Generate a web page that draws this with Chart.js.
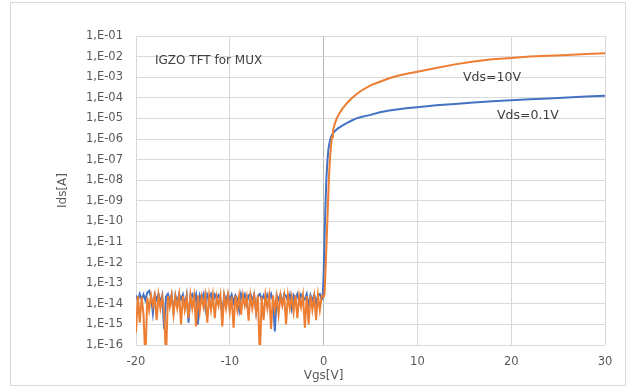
<!DOCTYPE html>
<html>
<head>
<meta charset="utf-8">
<script src="https://cdn.jsdelivr.net/npm/chart.js@4/dist/chart.umd.min.js"></script>
<style>
html,body{margin:0;padding:0;background:#fff;}
canvas{display:block;}
</style>
</head>
<body>
<canvas id="c" width="632" height="388"></canvas>
<script>
// ---- data ----
const xTickValues = [-20, -10, 0, 10, 20, 30];
const yTickValues = [1e-16,1e-15,1e-14,1e-13,1e-12,1e-11,1e-10,1e-9,1e-8,1e-7,1e-6,1e-5,1e-4,1e-3,1e-2,1e-1];
const yTickLabels = ['1,E-16','1,E-15','1,E-14','1,E-13','1,E-12','1,E-11','1,E-10','1,E-09','1,E-08','1,E-07','1,E-06','1,E-05','1,E-04','1,E-03','1,E-02','1,E-01'];

// off-state sweep voltages (Vgs, V)
const vgsOff = [
 -20.0,-19.8,-19.6,-19.4,-19.2,-19.0,-18.8,-18.6,-18.4,-18.2,
 -18.0,-17.8,-17.6,-17.4,-17.2,-17.0,-16.8,-16.6,-16.4,-16.2,
 -16.0,-15.8,-15.6,-15.4,-15.2,-15.0,-14.8,-14.6,-14.4,-14.2,
 -14.0,-13.8,-13.6,-13.4,-13.2,-13.0,-12.8,-12.6,-12.4,-12.2,
 -12.0,-11.8,-11.6,-11.4,-11.2,-11.0,-10.8,-10.6,-10.4,-10.2,
 -10.0,-9.8,-9.6,-9.4,-9.2,-9.0,-8.8,-8.6,-8.4,-8.2,
 -8.0,-7.8,-7.6,-7.4,-7.2,-7.0,-6.8,-6.6,-6.4,-6.2,
 -6.0,-5.8,-5.6,-5.4,-5.2,-5.0,-4.8,-4.6,-4.4,-4.2,
 -4.0,-3.8,-3.6,-3.4,-3.2,-3.0,-2.8,-2.6,-2.4,-2.2,
 -2.0,-1.8,-1.6,-1.4,-1.2,-1.0,-0.8,-0.6,-0.4,-0.2,0.0
];

// Vds = 0.1 V, off-state Ids [A]  (Vgs -20.0 ... -0.2)
const idsBlueOff = [
 2.6e-14,1.4e-14,3.0e-14,1.6e-14,2.8e-14,1.5e-14,3.4e-14,4.2e-14,2.2e-14,3.5e-15,
 2.8e-14,1.6e-14,3.0e-14,1.2e-14,2.6e-14,6.0e-16,2.2e-14,3.0e-14,1.4e-14,2.8e-14,
 4.0e-15,2.6e-14,1.2e-14,3.0e-14,1.6e-14,2.8e-14,8.0e-15,2.6e-14,1.2e-15,2.4e-14,
 3.0e-14,1.4e-14,2.8e-14,1.0e-15,2.6e-14,1.6e-14,3.0e-14,6.0e-15,2.8e-14,1.8e-14,
 3.0e-14,1.2e-14,2.8e-14,1.8e-14,2.6e-14,1.4e-14,3.0e-15,2.8e-14,1.4e-14,3.0e-14,
 1.6e-14,2.8e-14,1.2e-14,2.6e-14,1.8e-14,5.0e-15,3.0e-14,1.6e-14,2.8e-14,1.0e-14,
 2.6e-14,3.0e-14,1.4e-14,2.8e-14,4.0e-15,2.4e-14,3.0e-14,1.6e-14,2.6e-14,1.2e-14,
 2.8e-14,1.6e-14,3.0e-14,1.4e-14,4.5e-16,2.6e-14,1.6e-14,2.8e-14,1.0e-14,3.0e-14,
 2.4e-14,1.4e-14,2.8e-14,6.0e-15,2.6e-14,1.8e-14,3.0e-14,1.2e-14,2.8e-14,2.0e-14,
 1.6e-14,3.0e-14,8.0e-15,2.6e-14,1.4e-14,2.8e-14,1.0e-14,2.6e-14,3.0e-14,1.6e-14
];

// Vds = 10 V, off-state Ids [A]  (Vgs -20.0 ... 0.0)
const idsOrangeOff = [
 4.0e-16,2.4e-14,1.2e-15,2.2e-14,3.0e-15,2.0e-17,2.0e-14,5.0e-15,2.6e-14,8.0e-15,
 2.4e-14,1.6e-15,2.6e-14,6.0e-15,2.2e-14,4.0e-15,2.0e-17,2.4e-14,7.0e-15,2.6e-14,
 3.0e-15,2.2e-14,6.0e-15,2.6e-14,1.0e-15,2.4e-14,5.0e-15,2.2e-14,2.0e-15,2.8e-14,
 6.0e-15,2.4e-14,8.0e-16,2.6e-14,4.0e-15,2.2e-14,7.0e-15,2.6e-14,1.2e-15,2.4e-14,
 5.0e-15,2.6e-14,2.0e-15,2.2e-14,8.0e-15,2.6e-14,8.0e-16,2.4e-14,6.0e-15,2.6e-14,
 4.0e-15,2.2e-14,7.0e-16,2.6e-14,5.0e-15,2.4e-14,3.0e-15,2.6e-14,8.0e-15,2.2e-14,
 1.5e-15,2.6e-14,6.0e-15,2.4e-14,4.0e-15,2.6e-14,2.0e-17,2.2e-14,1.6e-15,2.6e-14,
 6.0e-15,2.4e-14,6.0e-16,2.6e-14,5.0e-15,2.2e-14,3.0e-15,2.6e-14,8.0e-15,2.4e-14,
 1.0e-15,2.6e-14,6.0e-15,2.2e-14,4.0e-15,2.6e-14,2.0e-15,2.4e-14,7.0e-15,2.6e-14,
 7.0e-16,2.4e-14,1.0e-15,2.6e-14,5.0e-15,2.2e-14,1.6e-15,2.6e-14,5.0e-15,2.4e-14,2.2e-14
];

// on-state (turn-on and saturation) parts
const vgsBlueOn = [-0.1,0.0,0.1,0.2,0.3,0.4,0.5,0.6,0.7,0.8,1.0,1.2,1.5,2.0,2.5,3.0,3.5,4,5,6,7,8,9,10,12,14,16,18,20,22,24,26,28,30];
const idsBlueOn = [1.8e-14,2.5e-13,1.6e-11,6.3e-10,1.26e-8,7.9e-8,2.8e-7,5.6e-7,8.9e-7,1.26e-6,1.9e-6,2.4e-6,3.2e-6,4.5e-6,6.0e-6,7.9e-6,1.0e-5,1.17e-5,1.48e-5,2.0e-5,2.4e-5,2.8e-5,3.2e-5,3.5e-5,4.3e-5,5.0e-5,5.9e-5,6.8e-5,7.6e-5,8.5e-5,9.3e-5,1.02e-4,1.15e-4,1.26e-4];
const vgsOrangeOn = [0.1,0.2,0.3,0.4,0.5,0.6,0.7,0.8,0.9,1.0,1.2,1.4,1.7,2.0,2.5,3.0,3.5,4,5,6,7,8,9,10,12,14,16,18,20,22,24,26,28,30];
const idsOrangeOn = [3.0e-14,4.0e-13,6.3e-12,1.0e-10,2.0e-9,2.5e-8,1.6e-7,5.0e-7,1.26e-6,2.5e-6,5.6e-6,1.0e-5,1.8e-5,2.9e-5,5.6e-5,9.5e-5,1.48e-4,2.2e-4,4.0e-4,6.0e-4,8.9e-4,1.2e-3,1.5e-3,1.86e-3,2.8e-3,4.2e-3,5.8e-3,7.4e-3,8.5e-3,1.0e-2,1.1e-2,1.2e-2,1.32e-2,1.45e-2];

const seriesNames = ['Vds=10V', 'Vds=0.1V'];

// ---- build datasets ----
function pts(xs, ys){ return ys.map((y,i)=>({x:xs[i], y:y})); }
const blueData = pts(vgsOff, idsBlueOff).concat(pts(vgsBlueOn, idsBlueOn));
const orangeData = pts(vgsOff, idsOrangeOff).concat(pts(vgsOrangeOn, idsOrangeOn));

const FONT = '"DejaVu Sans", Verdana, sans-serif';

const decor = {
  id: 'decor',
  beforeDraw(chart){
    const ctx = chart.ctx;
    ctx.save();
    ctx.fillStyle = '#ffffff';
    ctx.fillRect(0,0,chart.width,chart.height);
    ctx.strokeStyle = '#d9d9d9';
    ctx.lineWidth = 1;
    ctx.strokeRect(10.5, 2.5, 615, 383);
    ctx.restore();
  },
  afterDraw(chart){
    const ctx = chart.ctx;
    const ca = chart.chartArea;
    ctx.save();
    // annotations
    ctx.fillStyle = '#404040';
    ctx.font = '12px ' + FONT;
    ctx.textAlign = 'left';
    ctx.textBaseline = 'alphabetic';
    ctx.fillText('IGZO TFT for MUX', 155, 64);
    ctx.font = '12.5px ' + FONT;
    ctx.fillText(seriesNames[0], 463, 81);
    ctx.fillText(seriesNames[1], 497, 119);
    // axis titles
    ctx.fillStyle = '#595959';
    ctx.font = '12px ' + FONT;
    ctx.textAlign = 'center';
    ctx.textBaseline = 'middle';
    ctx.fillText('Vgs[V]', chart.scales.x.getPixelForValue(0), 376);
    ctx.translate(62.5, (ca.top + ca.bottom)/2);
    ctx.rotate(-Math.PI/2);
    ctx.fillText('Ids[A]', 0, 0);
    ctx.restore();
  }
};

new Chart(document.getElementById('c'), {
  type: 'line',
  data: {
    datasets: [
      { label: seriesNames[0], data: orangeData, borderColor: '#ED7D31', backgroundColor: '#ED7D31', borderWidth: 2, pointRadius: 0, tension: 0, fill: false },
      { label: seriesNames[1], data: blueData, borderColor: '#4472C4', backgroundColor: '#4472C4', borderWidth: 2, pointRadius: 0, tension: 0, fill: false }
    ]
  },
  options: {
    responsive: false,
    animation: false,
    devicePixelRatio: 1,
    layout: { padding: { left: 0, right: 27, top: 36, bottom: 0 } },
    plugins: { legend: { display: false }, tooltip: { enabled: false }, title: { display: false } },
    scales: {
      x: {
        type: 'linear',
        min: -20, max: 30,
        afterBuildTicks(scale){ scale.ticks = xTickValues.map(v => ({value: v})); },
        afterFit(scale){ scale.height = 43; },
        ticks: { color: '#595959', font: { family: FONT, size: 11.5 }, padding: 10, maxRotation: 0,
                 callback: (v) => String(v) },
        grid: { drawTicks: false, color: (c) => (c.tick && c.tick.value === 0) ? '#b3b3b3' : '#d9d9d9', lineWidth: 1 },
        border: { display: false }
      },
      y: {
        type: 'logarithmic',
        min: 1e-16, max: 1e-1,
        afterBuildTicks(scale){ scale.ticks = yTickValues.map(v => ({value: v, major: true})); },
        afterFit(scale){ scale.width = 136; },
        ticks: { color: '#595959', font: { family: FONT, size: 11.5 }, padding: 13,
                 callback: (v, i) => yTickLabels[i] },
        grid: { drawTicks: false, color: '#d9d9d9', lineWidth: 1 },
        border: { display: false }
      }
    }
  },
  plugins: [decor]
});
</script>
</body>
</html>
